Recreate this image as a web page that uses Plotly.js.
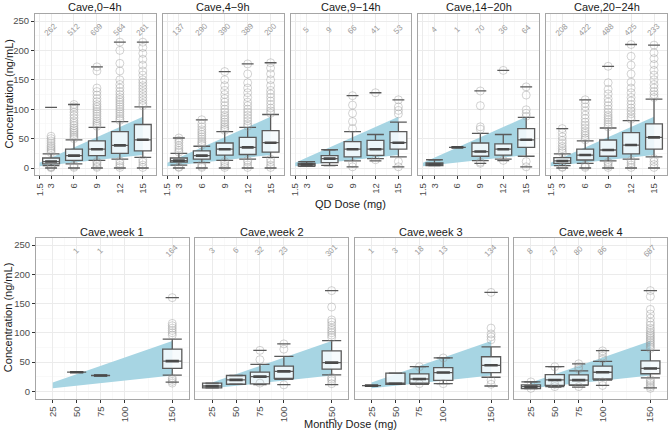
<!DOCTYPE html>
<html><head><meta charset="utf-8">
<script src="https://cdn.plot.ly/plotly-3.0.1.min.js"></script>
<style>html,body{margin:0;padding:0;background:#fff}#chart{width:668px;height:434px}</style>
</head><body><div id="chart"></div>
<script>
// ---------- QD dose panels (top row) ----------
const qdDoses = [3, 6, 9, 12, 15];
const qdTicks = [1.5, 3, 6, 9, 12, 15];
const qdTickText = ['1.5', '3', '6', '9', '12', '15'];
const qdPanels = ['Cave,0−4h', 'Cave,4−9h', 'Cave,9−14h', 'Cave,14−20h', 'Cave,20−24h'];
const qdN = [[262,512,609,564,261],[137,290,390,389,200],[5,9,66,41,53],[4,1,70,36,64],[208,422,488,425,233]];
const qdQ1  = [[7,13,21,25,29],[10,15,22,23,27],[3.5,9,19,21.5,32],[4,35,20,22,35],[8,13.6,20,24,32]];
const qdMed = [[11,21,32,38.5,48],[12.5,21,32,35,43],[6,16,32,32,43],[6,35,28,32,48],[12,22,30.6,39,52]];
const qdQ3  = [[17,32,46,62,74],[17,29,42.5,52,63.5],[8,21,45,47,62],[8.5,35,42.5,41,67],[17.5,32,47.6,60,75]];
const qdLo  = [[4,7,13,15,18],[5,9,13,15,18],[3,4.5,12,16,19],[4,35,12.5,15,20],[4,8,12,15,19]];
const qdHi  = [[24,48,69,79,104],[25,37,62,69,91],[11,31,62,57,78],[14,35,59,57,86],[24,46,68,80.5,117]];
const qdMin = [[0,0,0,0,0],[0,0,0,0,0],[3,4,2,12,2],[4,35,8,12.5,2],[0,0,0,0,0]];
const qdMax = [[103,108,172,214,214],[51,82,164,177,179],[11,31,123,128,116],[14,35,131,166,138],[67,116,173,210,209]];
const qdOut = [
  [[26,29,32,35,38,42,46,50,54,0.5,1.5,2.5],
   [50,53,56,59,62,65,68,72,76,80,85,90,95,100,104,108,1,3,5],
   [71,74,77,80,84,88,92,96,100,104,108,113,118,124,130,136,165,172,1,3,6,9,11],
   [81,84,88,92,96,100,104,108,112,116,120,125,130,136,142,150,165,178,200,214,1,4,8,12],
   [106,110,115,120,125,130,135,140,145,150,158,165,175,185,195,205,214,1,5,10,14]],
  [[27,30,34,38,43,47,51,1,2],
   [39,42,45,49,53,57,61,65,70,75,82,1,3,6],
   [64,67,70,74,78,82,86,90,95,100,106,112,118,125,132,140,150,164,1,4,8,11],
   [71,75,80,85,90,95,100,106,112,120,128,136,145,160,177,1,5,10,13],
   [93,97,102,108,114,120,126,132,140,150,160,170,179,1,5,10,15]],
  [[],[],[67,79,93,107,123,8,2],[128,14],[92,98,104,116,11,2]],
  [[],[],[66,70,106,131,8,10],[166,13],[88,93,99,124,138,11,2]],
  [[26,29,33,37,42,47,53,60,67,1,2],
   [48,51,55,59,63,68,73,78,84,90,97,104,110,116,1,3,5],
   [70,74,78,82,86,90,95,100,106,112,118,126,134,145,173,1,4,8,10],
   [83,87,92,97,102,108,114,120,128,136,146,160,175,190,210,1,5,9,13],
   [120,125,130,136,142,150,158,166,176,186,196,209,1,6,11,16]]
];
const qdRibbonDose = [1.5, 15];
const qdRibbonLow  = [3, 22];
const qdRibbonHigh = [9, 87];

// ---------- Monthly dose panels (bottom row) ----------
const monDoses = [25, 50, 75, 100, 150];
const monTicks = [25, 50, 75, 100, 150];
const monTickText = ['25', '50', '75', '100', '150'];
const monPanels = ['Cave,week 1', 'Cave,week 2', 'Cave,week 3', 'Cave,week 4'];
const monN = [[null,1,1,null,164],[3,6,32,23,301],[1,3,18,13,134],[8,27,80,86,687]];
const monQ1  = [[null,32.6,27,null,39],[6,12,12.6,22,38],[9.7,12,13.7,18.8,32],[4.5,10,11,21,30]];
const monMed = [[null,32.6,27,null,51.5],[9,19.5,25,34,49],[9.7,13,21,32,44.4],[8,19.4,19,32.5,39]];
const monQ3  = [[null,32.6,27,null,72],[14,27,32.6,43,69],[9.7,31,29.6,40.5,59],[11,28.5,28,43,52]];
const monLo  = [[null,32.6,27,null,27.5],[6,12,15,20.6,28],[9.7,12,12,13,24],[4.5,8,10,19,23]];
const monHi  = [[null,32.6,27,null,89],[14,27,46,59.6,86.5],[9.7,31,42,57,76],[16,42,35,51,70]];
const monMin = [[null,32.6,27,null,15.5],[6,12,11.5,11.5,11.5],[9.7,12,12,13,9],[4.5,7,7,10,6]];
const monMax = [[null,32.6,27,null,160],[14,27,70,81,172],[9.7,31,42,57,169],[16,42,47,69.5,172]];
const monOut = [
  [[],[],[],[],[96,100,104,108,112,116,160,14,17,20,23]],
  [[],[],[54,70,14],[72,81,11],[92,96,100,104,108,113,118,122,144,172,13,18,21,24]],
  [[],[],[42,13],[57,13],[88,93,98,108,169,19,12]],
  [[16,5],[42,8,12],[38,42,47,8],[55,60,65,69,10,16],
   [73,76,79,82,85,88,91,94,97,100,104,108,113,118,125,132,140,162,172,5,8,11,14,17,20]]
];
const monRibbonDose = [25, 150];
const monRibbonLow  = [5, 27];
const monRibbonHigh = [15, 86];

const yTicks = [0, 50, 100, 150, 200, 250];

// ---------- layout helpers ----------
const W = 668, H = 434;
const FONT = 'Liberation Sans, Arial, Helvetica, sans-serif';
const topX = [[35,155.8],[162.8,283.6],[290.6,411.4],[418.4,539.2],[546.2,667]];
const botX = [[36,188.9],[195.4,348.3],[354.8,507.7],[514.2,667]];
const topY = [1-175.35/H, 1-13.65/H];
const botY = [1-398.6/H, 1-237.7/H];

const data = [], shapes = [], annotations = [], layout = {};
const boxLine = '#5a5a5a';

function addPanel(idx, dom, ydom, xrange, doses, ticks, tickText, minorX, st, boxW, capPx, countY, rib, title) {
  const sfx = idx === 1 ? '' : String(idx);
  const xa = 'x' + sfx, ya = 'y' + sfx;
  const showY = (idx === 1 || idx === 6);
  layout['xaxis' + sfx] = {
    domain: [dom[0]/W, dom[1]/W], range: xrange, anchor: ya,
    tickmode: 'array', tickvals: ticks, ticktext: tickText, tickangle: -90,
    ticks: 'outside', ticklen: 3, tickwidth: 1, tickcolor: '#333',
    tickfont: {family: FONT, size: 9.5, color: '#4d4d4d'},
    showgrid: true, gridcolor: '#ebebeb', gridwidth: 1,
    minor: {tickmode: 'array', tickvals: minorX, showgrid: true, gridcolor: '#f5f5f5', gridwidth: 0.6, ticks: ''},
    showline: true, mirror: true, linecolor: '#a6a6a6', linewidth: 1, zeroline: false, fixedrange: true
  };
  layout['yaxis' + sfx] = {
    domain: ydom, range: [-12.5, 262.5], anchor: xa,
    tickmode: 'array', tickvals: yTicks, showticklabels: showY,
    ticks: showY ? 'outside' : '', ticklen: 3, tickwidth: 1, tickcolor: '#333',
    tickfont: {family: FONT, size: 9.5, color: '#4d4d4d'},
    showgrid: true, gridcolor: '#ebebeb', gridwidth: 1,
    minor: {tickmode: 'array', tickvals: [25,75,125,175,225], showgrid: true, gridcolor: '#f5f5f5', gridwidth: 0.6, ticks: ''},
    showline: true, mirror: true, linecolor: '#a6a6a6', linewidth: 1, zeroline: false, fixedrange: true
  };
  // ribbon
  shapes.push({
    type: 'path', xref: xa, yref: ya, layer: 'between',
    path: 'M' + rib.d[0] + ',' + rib.lo[0] + ' L' + rib.d[1] + ',' + rib.lo[1] +
          ' L' + rib.d[1] + ',' + rib.hi[1] + ' L' + rib.d[0] + ',' + rib.hi[0] + ' Z',
    fillcolor: '#a7d5e3', line: {width: 0}
  });
  const xs = [], q1 = [], md = [], q3 = [], lo = [], hi = [], mn = [], mx = [];
  const ox = [], oy = [];
  doses.forEach((d, k) => {
    if (st.q1[k] === null) return;
    xs.push(d); q1.push(st.q1[k]); md.push(st.med[k]); q3.push(st.q3[k]);
    lo.push(st.lo[k]); hi.push(st.hi[k]); mn.push(st.min[k]); mx.push(st.max[k]);
    st.out[k].forEach(v => { ox.push(d); oy.push(v); });
  });
  data.push({
    type: 'box', xaxis: xa, yaxis: ya, x: xs, q1: q1, median: md, q3: q3,
    lowerfence: lo, upperfence: hi, width: boxW, whiskerwidth: 1,
    fillcolor: 'rgba(246,251,253,0.88)', line: {color: boxLine, width: 1.3},
    boxpoints: false, showlegend: false, hoverinfo: 'skip'
  });
  data.push({
    type: 'scatter', mode: 'markers', xaxis: xa, yaxis: ya, x: ox, y: oy,
    marker: {symbol: 'circle-open', size: 8, color: 'rgba(150,150,150,0.42)', line: {width: 1, color: 'rgba(150,150,150,0.42)'}},
    showlegend: false, hoverinfo: 'skip'
  });
  data.push({
    type: 'scatter', mode: 'markers', xaxis: xa, yaxis: ya,
    x: xs.concat(xs), y: mn.concat(mx),
    marker: {symbol: 'line-ew', size: capPx, color: boxLine, line: {width: 1.3, color: boxLine}},
    showlegend: false, hoverinfo: 'skip'
  });
  data.push({
    type: 'scatter', mode: 'markers', xaxis: xa, yaxis: ya, x: xs, y: md,
    marker: {symbol: 'line-ew', size: capPx, color: '#4a4a4a', line: {width: 2.6, color: '#4a4a4a'}},
    showlegend: false, hoverinfo: 'skip'
  });
  doses.forEach((d, k) => {
    if (st.n[k] === null) return;
    annotations.push({
      xref: xa, yref: ya, x: d, y: countY, text: String(st.n[k]), showarrow: false,
      textangle: -45, font: {family: FONT, size: 8, color: '#9a9a9a'}
    });
  });
  annotations.push({
    xref: 'paper', yref: 'paper', x: (dom[0] + dom[1]) / 2 / W, y: title.y,
    text: title.text, showarrow: false, xanchor: 'center', yanchor: 'middle',
    font: {family: FONT, size: 11, color: '#1a1a1a'}
  });
}

qdPanels.forEach((t, i) => {
  addPanel(i + 1, topX[i], topY, [0.9, 16.7], qdDoses, qdTicks, qdTickText, [2.25,4.5,7.5,10.5,13.5],
    {n: qdN[i], q1: qdQ1[i], med: qdMed[i], q3: qdQ3[i], lo: qdLo[i], hi: qdHi[i], min: qdMin[i], max: qdMax[i], out: qdOut[i]},
    2.2, 8.5, 235, {d: qdRibbonDose, lo: qdRibbonLow, hi: qdRibbonHigh}, {text: t, y: 1 - 7/H});
});
monPanels.forEach((t, i) => {
  addPanel(i + 6, botX[i], botY, [7.5, 167.4], monDoses, monTicks, monTickText, [37.5,62.5,87.5,125],
    {n: monN[i], q1: monQ1[i], med: monMed[i], q3: monQ3[i], lo: monLo[i], hi: monHi[i], min: monMin[i], max: monMax[i], out: monOut[i]},
    20, 9.5, 240, {d: monRibbonDose, lo: monRibbonLow, hi: monRibbonHigh}, {text: t, y: 1 - 232/H});
});

// axis titles
annotations.push({xref: 'paper', yref: 'paper', x: 351/W, y: 1 - 204/H, text: 'QD Dose (mg)', showarrow: false,
  xanchor: 'center', yanchor: 'middle', font: {family: FONT, size: 11, color: '#1a1a1a'}});
annotations.push({xref: 'paper', yref: 'paper', x: 351/W, y: 1 - 424/H, text: 'Monthly Dose (mg)', showarrow: false,
  xanchor: 'center', yanchor: 'middle', font: {family: FONT, size: 11, color: '#1a1a1a'}});
annotations.push({xref: 'paper', yref: 'paper', x: 8/W, y: (topY[0] + topY[1]) / 2, text: 'Concentration (ng/mL)', showarrow: false,
  textangle: -90, xanchor: 'center', yanchor: 'middle', font: {family: FONT, size: 11, color: '#1a1a1a'}});
annotations.push({xref: 'paper', yref: 'paper', x: 8/W, y: (botY[0] + botY[1]) / 2, text: 'Concentration (ng/mL)', showarrow: false,
  textangle: -90, xanchor: 'center', yanchor: 'middle', font: {family: FONT, size: 11, color: '#1a1a1a'}});

Object.assign(layout, {
  width: W, height: H, margin: {l: 0, r: 0, t: 0, b: 0},
  paper_bgcolor: '#ffffff', plot_bgcolor: '#ffffff',
  showlegend: false, boxmode: 'overlay', shapes: shapes, annotations: annotations,
  font: {family: FONT}
});

Plotly.newPlot('chart', data, layout, {displayModeBar: false, staticPlot: true});
</script>
</body></html>
